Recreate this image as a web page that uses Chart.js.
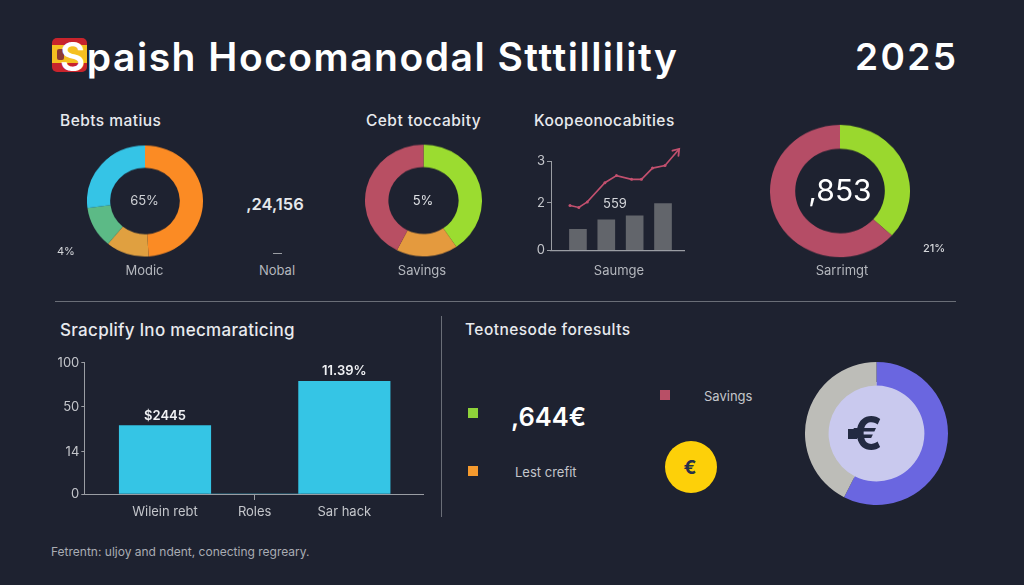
<!DOCTYPE html>
<html>
<head>
<meta charset="utf-8">
<title>Spaish Hocomanodal Stttillility 2025</title>
<script src="https://cdn.jsdelivr.net/npm/chart.js@4/dist/chart.umd.js"></script>
<style>
    html, body { margin: 0; padding: 0; background: #1e2230; }
    #page { position: relative; width: 1024px; height: 585px; overflow: hidden; background: #1e2230; font-family: Inter, sans-serif; color: #e6e8ec; }
    #page canvas { position: absolute; display: block; }
    .t { position: absolute; white-space: nowrap; transform: translateY(-50%); }
    .c { position: absolute; white-space: nowrap; transform: translate(-50%, -50%); }
    .head { font-size: 15.5px; font-weight: 500; color: #e8eaee; letter-spacing: 0.45px; }
    .sub { font-size: 13px; color: #b4b7bd; }
    .small { font-size: 11px; color: #d4d6da; }
    .big { font-size: 37px; font-weight: 600; color: #fff; }
    .sq { position: absolute; width: 10px; height: 10px; }
    .rule { position: absolute; background: #6a6e77; }
    .flag { position: absolute; left: 52px; top: 38px; width: 35px; height: 34px; border-radius: 5px;
        background: linear-gradient(#c8242c 0 22%, #f4c020 22% 74%, #c8242c 74%); }
    .crest { position: absolute; left: 5px; top: 11px; width: 7px; height: 11px; background: #8d3a34; border-radius: 2px; }
    .disc { position: absolute; border-radius: 50%; }
</style>
</head>
<body>
<div id="page">
    <div class="flag"><div class="crest"></div></div>
    <div class="t big" style="left:60px;top:56px;font-size:39px;letter-spacing:1.5px" id="title">Spaish Hocomanodal Stttillility</div>
    <div class="t big" style="left:855px;top:56px;letter-spacing:2.4px">2025</div>

    <div class="t head" style="left:60px;top:120px">Bebts matius</div>
    <canvas id="donutDebts" width="116" height="116" style="left:86.5px;top:142.5px;transform:scaleY(.957)"></canvas>
    <div class="c" style="left:144.5px;top:200px;font-size:13px;color:#cfd1d5">65%</div>
    <div class="t small" style="left:57px;top:251px">4%</div>
    <div class="c sub" style="left:144.5px;top:270px">Modic</div>

    <div class="c" style="left:275px;top:204px;font-size:16.5px;font-weight:600">,24,156</div>
    <div class="rule" style="left:273px;top:253px;width:9px;height:1px;background:#9a9da3"></div>
    <div class="c sub" style="left:277px;top:270px">Nobal</div>

    <div class="t head" style="left:366px;top:120px">Cebt toccabity</div>
    <canvas id="donutCredit" width="117" height="117" style="left:364.8px;top:141.5px;transform:scaleY(.955)"></canvas>
    <div class="c" style="left:423px;top:200px;font-size:13px;color:#dfe1e5">5%</div>
    <div class="c sub" style="left:422px;top:270px">Savings</div>

    <div class="t head" style="left:534px;top:120px">Koopeonocabities</div>
    <canvas id="trendChart" width="175" height="120" style="left:520px;top:140px"></canvas>
    <div class="c" style="left:615px;top:203px;font-size:13px;color:#d4d6da">559</div>
    <div class="c sub" style="left:619px;top:270px">Saumge</div>

    <canvas id="donutTotal" width="140" height="140" style="left:770px;top:121px;transform:scaleY(.945)"></canvas>
    <div class="c" style="left:840px;top:190px;font-size:30px;color:#fff">,853</div>
    <div class="t small" style="left:923px;top:248px;font-weight:500">21%</div>
    <div class="c sub" style="left:842px;top:270px">Sarrimgt</div>

    <div class="rule" style="left:55px;top:301px;width:901px;height:1px"></div>
    <div class="rule" style="left:441px;top:316px;width:1px;height:201px"></div>

    <div class="t" style="left:60px;top:330px;font-size:17px;font-weight:500;color:#e8eaee;letter-spacing:0.3px">Sracplify lno mecmaraticing</div>
    <canvas id="barChart" width="400" height="180" style="left:40px;top:350px"></canvas>
    <div class="t" style="left:51px;top:551px;font-size:12px;color:#a9acb3">Fetrentn: uljoy and ndent, conecting regreary.</div>

    <div class="t head" style="left:465px;top:329px">Teotnesode foresults</div>
    <div class="sq" style="left:468px;top:408px;background:#8fd23a"></div>
    <div class="t" style="left:511px;top:416px;font-size:25.5px;font-weight:600;color:#fff">,644€</div>
    <div class="sq" style="left:660px;top:390px;background:#b84f66"></div>
    <div class="t sub" style="left:704px;top:396px;color:#c4c6cb">Savings</div>
    <div class="sq" style="left:468px;top:466px;background:#f59a2e"></div>
    <div class="t sub" style="left:515px;top:472px;color:#c4c6cb">Lest crefit</div>
    <div class="disc" style="left:665px;top:441px;width:52px;height:52px;background:#fdd009"></div>
    <div class="c" style="left:690px;top:467px;font-size:19px;font-weight:700;color:#26304a">€</div>

    <div class="disc" style="left:826px;top:382px;width:102px;height:102px;background:#c9c9ee"></div>
    <canvas id="donutEuro" width="143" height="143" style="left:805.3px;top:361.5px"></canvas>
    <div class="c" style="left:867px;top:433px;font-size:46px;font-weight:700;color:#232a42">€</div>
    <div class="sq" style="left:848px;top:429px;width:9px;height:10px;background:#232a42"></div>
</div>

<script>
// donut shares, clockwise from 12 o'clock
const debtValues = [49, 12, 12, 27];
const debtColors = ['#fb8b24', '#e0a040', '#5cba86', '#35c4e6'];
const creditValues = [40.5, 17, 42.5];
const creditColors = ['#9bdc30', '#e49a3e', '#b84f63'];
const totalValues = [36.7, 63.3];
const totalColors = ['#9ad82e', '#b54d66'];
const euroValues = [57.5, 42.5];
const euroColors = ['#6a66e0', '#bdbdb8'];

// small trend panel
const trendTicks = [0, 2, 3];
const trendBarX = [1, 2, 3, 4];
const trendBars = [0.88, 1.28, 1.45, 1.97];
const trendLineX = [0.72, 1.03, 1.33, 1.95, 2.36, 2.89, 3.24, 3.63, 4.07, 4.57];
const trendLine = [1.88, 1.80, 2.02, 2.48, 2.65, 2.56, 2.56, 2.83, 2.89, 3.29];

// lower bar panel
const barCategories = ['Wilein rebt', 'Roles', 'Sar hack'];
const barValues = [35, 0, 79];
const barLabels = ['$2445', '', '11.39%'];
const barTicks = [0, 14, 50, 100];

const axisColor = '#9a9da3';
const tickTextColor = '#c4c6cb';
const lineColor = '#c2506e';

// linear axis whose ticks sit at given fractions of its height, not in proportion to value
class StopScale extends Chart.LinearScale {
    static id = 'stops';
    static defaults = Chart.LinearScale.defaults;

    getPixelForValue(value) {
        if (value === null || value === undefined) return NaN;
        const stops = this.options.stopValues;
        const fracs = this.options.stopFractions;
        let i = 0;
        while (i < stops.length - 2 && value > stops[i + 1]) i++;
        const f = (value - stops[i]) / (stops[i + 1] - stops[i]);
        return this.getPixelForDecimal(fracs[i] + f * (fracs[i + 1] - fracs[i]));
    }
}
Chart.register(StopScale);

function makeDonut(id, values, colors, cutout) {
    return new Chart(document.getElementById(id), {
        type: 'doughnut',
        data: { datasets: [{ data: values, backgroundColor: colors, borderWidth: 0 }] },
        options: {
            responsive: false,
            animation: false,
            events: [],
            cutout: cutout,
            plugins: { legend: { display: false }, tooltip: { enabled: false } }
        }
    });
}

makeDonut('donutDebts', debtValues, debtColors, '60%');
makeDonut('donutCredit', creditValues, creditColors, '60%');
makeDonut('donutTotal', totalValues, totalColors, '64%');
makeDonut('donutEuro', euroValues, euroColors, '67%');

// arrow head on the last point of the trend line, which sits above the axis top
const lineArrow = {
    id: 'lineArrow',
    afterDatasetsDraw(chart) {
        const pts = chart.getDatasetMeta(0).data;
        const end = pts[pts.length - 1];
        const prev = pts[pts.length - 2];
        const angle = Math.atan2(end.y - prev.y, end.x - prev.x);
        const ctx = chart.ctx;
        ctx.save();
        ctx.strokeStyle = lineColor;
        ctx.lineWidth = 1.8;
        ctx.lineCap = 'round';
        ctx.beginPath();
        ctx.moveTo(end.x - 7 * Math.cos(angle - 0.6), end.y - 7 * Math.sin(angle - 0.6));
        ctx.lineTo(end.x, end.y);
        ctx.lineTo(end.x - 7 * Math.cos(angle + 0.6), end.y - 7 * Math.sin(angle + 0.6));
        ctx.stroke();
        ctx.restore();
    }
};

new Chart(document.getElementById('trendChart'), {
    type: 'bar',
    data: {
        datasets: [{
            type: 'line',
            order: 0,
            data: trendLine.map((y, i) => ({ x: trendLineX[i], y: y })),
            borderColor: lineColor,
            borderWidth: 1.6,
            tension: 0,
            clip: false,
            backgroundColor: lineColor,
            pointRadius: 1.5,
            pointBorderWidth: 0
        }, {
            order: 1,
            data: trendBars.map((y, i) => ({ x: trendBarX[i], y: y })),
            backgroundColor: '#62656b',
            barThickness: 17
        }]
    },
    plugins: [lineArrow],
    options: {
        responsive: false,
        animation: false,
        events: [],
        layout: { padding: { top: 21, right: 11, left: 0, bottom: 0 } },
        plugins: { legend: { display: false }, tooltip: { enabled: false } },
        scales: {
            x: {
                type: 'linear',
                offset: false,
                min: 0.05,
                max: 4.74,
                ticks: { display: false },
                grid: { display: false },
                border: { color: axisColor, width: 1.2 },
                afterFit: (s) => { s.height = 6.3; }
            },
            y: {
                type: 'stops',
                min: 0,
                max: 3,
                stopValues: trendTicks,
                stopFractions: [0, 0.532, 1],
                afterBuildTicks: (s) => { s.ticks = trendTicks.map((v) => ({ value: v })); },
                ticks: { color: tickTextColor, font: { family: 'Inter', size: 13 }, padding: 2, callback: (v) => String(v) },
                grid: { drawOnChartArea: false, tickLength: 4, color: axisColor },
                border: { color: axisColor, width: 1 },
                afterFit: (s) => { s.width = 31; }
            }
        }
    }
});

// value captions above the lower bars
const barCaptions = {
    id: 'barCaptions',
    afterDatasetsDraw(chart) {
        const ctx = chart.ctx;
        ctx.save();
        ctx.font = '600 13px Inter';
        ctx.fillStyle = '#f0f1f4';
        ctx.textAlign = 'center';
        ctx.textBaseline = 'middle';
        chart.getDatasetMeta(0).data.forEach((bar, i) => {
            ctx.fillText(barLabels[i], bar.x, bar.y - 10);
        });
        ctx.restore();
    }
};

new Chart(document.getElementById('barChart'), {
    type: 'bar',
    data: {
        datasets: [{
            data: barValues.map((y, i) => ({ x: i, y: y })),
            backgroundColor: '#35c5e5',
            barThickness: 91.5
        }]
    },
    plugins: [barCaptions],
    options: {
        responsive: false,
        animation: false,
        events: [],
        layout: { padding: { top: 12.7, right: 17, left: 0, bottom: 0 } },
        plugins: { legend: { display: false }, tooltip: { enabled: false } },
        scales: {
            x: {
                type: 'linear',
                offset: false,
                min: -0.9,
                max: 2.877,
                afterBuildTicks: (s) => { s.ticks = barCategories.map((c, i) => ({ value: i })); },
                ticks: { color: tickTextColor, font: { family: 'Inter', size: 13 }, padding: 4, maxRotation: 0, callback: (v) => barCategories[v] },
                grid: {
                    offset: false,
                    drawOnChartArea: false,
                    tickLength: 6,
                    tickColor: (ctx) => ctx.index === 1 ? axisColor : 'transparent'
                },
                border: { color: axisColor, width: 1 },
                afterFit: (s) => { s.height = 36; }
            },
            y: {
                type: 'stops',
                min: 0,
                max: 100,
                stopValues: barTicks,
                stopFractions: [0, 0.32, 0.664, 1],
                afterBuildTicks: (s) => { s.ticks = barTicks.map((v) => ({ value: v })); },
                ticks: { color: tickTextColor, font: { family: 'Inter', size: 13 }, padding: 2, callback: (v) => String(v) },
                grid: { drawOnChartArea: false, tickLength: 3, color: axisColor },
                border: { color: axisColor, width: 1 },
                afterFit: (s) => { s.width = 44.3; }
            }
        }
    }
});
</script>
</body>
</html>
